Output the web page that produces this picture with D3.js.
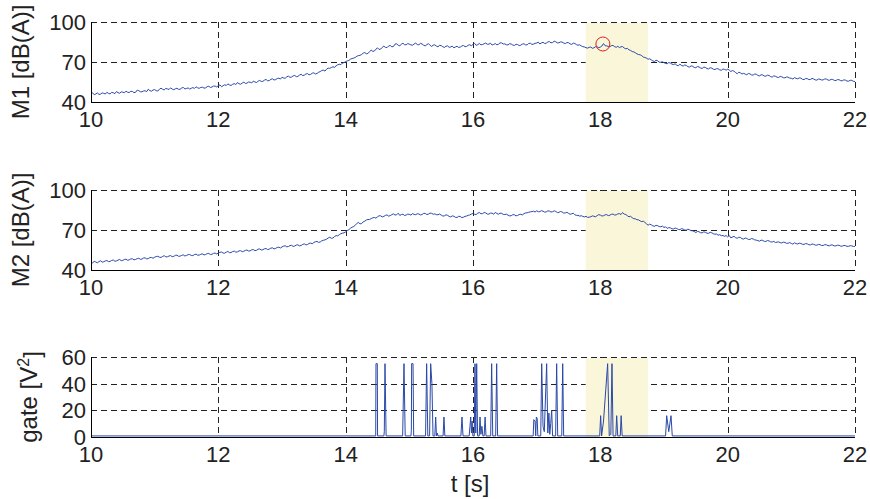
<!DOCTYPE html>
<html>
<head>
<meta charset="utf-8">
<script src="https://cdn.jsdelivr.net/npm/d3@7"></script>
<style>
  html, body { margin: 0; padding: 0; background: #fff; }
  svg { display: block; font-family: "Liberation Sans", Arial, sans-serif; }
</style>
</head>
<body>
<svg id="chart" width="870" height="499"></svg>
<script>
const tStart = 10;
const tEnd = 22;

const m1Level = [
  46.2, 46.9, 45.5, 46.0, 46.8, 45.7, 45.9, 46.8, 46.5, 46.0, 47.3, 46.4, 46.1, 47.2, 46.9, 46.3, 47.8, 47.0, 46.6, 47.6,
  47.4, 46.9, 48.2, 47.3, 47.1, 48.0, 47.9, 47.0, 47.3, 48.9, 48.5, 47.7, 47.6, 48.3, 48.4, 47.8, 49.6, 48.5, 48.1, 49.0,
  49.3, 48.5, 48.2, 49.6, 50.4, 49.5, 49.1, 50.2, 49.8, 49.4, 50.6, 49.7, 49.2, 49.9, 50.3, 49.5, 49.6, 50.5, 50.9, 49.8,
  50.1, 50.6, 49.7, 50.3, 50.8, 50.2, 51.4, 50.6, 50.3, 50.9, 51.1, 50.4, 50.6, 51.5, 51.8, 50.9, 51.2, 52.0, 51.9, 51.3,
  52.3, 52.8, 51.5, 52.2, 52.9, 52.4, 53.6, 52.8, 52.4, 53.3, 53.8, 53.1, 54.6, 53.7, 53.3, 54.2, 54.9, 54.0, 54.1, 55.0,
  54.8, 54.3, 55.7, 55.0, 54.6, 55.6, 56.2, 55.4, 55.5, 56.4, 56.9, 55.9, 56.1, 57.0, 57.4, 56.5, 56.8, 57.6, 57.9, 57.2,
  58.6, 58.0, 57.8, 58.9, 59.4, 58.5, 58.7, 59.6, 59.9, 59.0, 59.2, 60.2, 60.8, 59.8, 60.1, 61.0, 61.3, 60.4, 60.7, 61.6,
  61.9, 61.0, 61.4, 62.3, 62.8, 63.6, 63.9, 63.2, 64.6, 65.4, 65.2, 65.9, 66.4, 66.0, 67.1, 67.9, 68.3, 68.0, 69.2, 69.6,
  70.3, 70.9, 71.1, 72.1, 72.6, 72.9, 73.4, 74.3, 74.8, 75.0, 75.6, 76.6, 77.1, 76.2, 76.4, 77.8, 78.9, 78.0, 78.2, 79.6,
  80.6, 79.4, 79.7, 81.0, 81.9, 80.9, 80.8, 82.0, 82.4, 81.4, 81.6, 83.4, 83.7, 82.5, 82.2, 83.3, 84.1, 83.0, 82.9, 83.8,
  83.4, 82.8, 82.6, 83.5, 84.2, 83.1, 82.9, 84.0, 83.5, 82.6, 82.1, 83.0, 83.8, 82.5, 81.7, 82.6, 82.9, 81.9, 81.4, 82.5,
  82.3, 81.5, 80.9, 81.8, 82.1, 81.0, 81.3, 81.9, 80.6, 81.3, 81.8, 80.9, 81.2, 82.0, 82.4, 81.5, 81.7, 82.6, 82.9, 82.2,
  83.2, 84.0, 82.5, 83.0, 83.9, 82.9, 83.1, 83.7, 84.2, 83.3, 83.4, 84.1, 82.7, 83.2, 83.8, 82.9, 83.3, 84.4, 84.3, 83.5,
  83.6, 82.9, 82.8, 83.7, 83.5, 82.7, 82.4, 83.3, 83.1, 82.3, 82.6, 83.4, 83.7, 82.8, 82.9, 83.9, 84.1, 83.2, 83.4, 84.0,
  84.2, 84.9, 83.5, 84.3, 84.8, 83.9, 84.1, 85.0, 85.3, 84.4, 84.6, 85.6, 85.2, 84.3, 84.4, 85.1, 84.9, 84.2, 83.8, 84.6,
  84.5, 83.6, 83.2, 84.1, 83.9, 83.0, 82.6, 82.9, 82.1, 81.5, 81.3, 80.7, 80.4, 81.0, 81.2, 80.3, 80.6, 81.5, 81.4, 80.8,
  81.2, 82.0, 83.8, 82.2, 82.1, 81.6, 81.5, 82.3, 82.4, 81.5, 81.0, 81.8, 80.8, 81.4, 81.6, 80.5, 79.9, 80.2, 79.1, 78.7,
  77.8, 77.6, 76.9, 76.1, 75.6, 75.4, 74.8, 73.7, 73.4, 72.9, 72.1, 72.4, 71.6, 70.8, 70.4, 71.3, 70.9, 69.9, 69.8, 70.2,
  69.5, 68.9, 68.7, 69.6, 69.2, 68.4, 68.1, 68.6, 67.6, 67.2, 68.3, 67.5, 66.9, 67.8, 67.4, 66.5, 66.2, 67.1, 66.8, 65.9,
  65.7, 66.6, 66.3, 65.5, 65.2, 66.1, 65.9, 65.1, 64.8, 65.7, 65.4, 64.6, 64.3, 65.0, 64.9, 64.1, 63.8, 64.7, 64.5, 63.9,
  64.6, 63.9, 62.8, 63.6, 63.1, 62.0, 61.2, 62.4, 61.9, 61.0, 61.5, 60.9, 60.4, 61.4, 61.1, 60.3, 60.2, 61.0, 60.8, 59.9,
  59.6, 60.4, 60.3, 59.5, 59.4, 60.1, 59.9, 59.0, 58.7, 59.6, 59.3, 58.6, 58.4, 59.2, 58.9, 58.2, 58.1, 58.8, 58.6, 57.9,
  57.8, 57.2, 58.3, 57.7, 57.4, 58.1, 57.9, 57.0, 56.8, 57.6, 57.5, 56.8, 56.9, 57.7, 57.3, 56.6, 56.4, 57.2, 57.1, 56.5,
  56.6, 57.3, 57.2, 56.5, 56.3, 57.0, 56.9, 56.2, 56.1, 56.8, 56.7, 56.0, 55.9, 56.6, 56.4, 55.7, 55.6, 56.3, 56.2, 55.5,
  55.4
];

const m2Level = [
  45.8, 45.2, 46.6, 46.0, 45.4, 46.3, 46.9, 45.9, 46.2, 46.8, 47.1, 46.3, 46.4, 47.2, 47.5, 46.6, 46.8, 47.4, 47.9, 47.0,
  47.2, 47.9, 48.1, 47.3, 47.6, 48.3, 48.4, 47.6, 47.9, 48.5, 48.8, 48.0, 48.2, 49.0, 49.1, 48.3, 48.6, 49.3, 49.4, 48.8,
  49.6, 50.1, 50.3, 49.6, 49.4, 50.2, 50.7, 49.9, 49.9, 50.5, 50.8, 50.0, 50.2, 51.0, 51.1, 50.3, 50.4, 51.0, 51.3, 50.5,
  50.9, 51.5, 51.6, 50.9, 50.8, 51.6, 51.9, 51.1, 51.2, 51.8, 52.1, 51.3, 51.6, 52.3, 52.4, 51.6, 51.8, 52.5, 52.7, 52.0,
  52.8, 53.3, 53.5, 52.7, 52.6, 53.4, 53.9, 53.0, 53.1, 53.8, 54.2, 53.4, 53.6, 54.3, 54.5, 53.7, 54.1, 54.7, 55.0, 54.2,
  54.4, 55.1, 55.3, 54.5, 54.8, 55.6, 55.8, 55.0, 55.2, 55.9, 56.1, 55.3, 55.7, 56.4, 56.6, 55.8, 56.2, 56.9, 57.1, 56.5,
  57.3, 57.9, 58.1, 57.4, 57.6, 58.3, 58.5, 57.7, 58.0, 58.7, 58.9, 58.1, 58.4, 59.2, 59.6, 58.8, 59.1, 59.9, 60.2, 59.7,
  60.6, 61.2, 61.4, 60.7, 61.0, 61.9, 62.3, 62.6, 63.1, 64.0, 64.6, 63.8, 64.0, 65.1, 65.8, 65.6, 66.5, 67.3, 67.6, 67.9,
  68.6, 69.6, 70.2, 71.3, 72.1, 72.6, 73.5, 74.9, 75.7, 74.6, 74.8, 76.1, 76.6, 77.5, 77.9, 77.8, 78.6, 79.1, 79.4, 78.9,
  79.9, 80.7, 80.6, 79.8, 80.2, 81.0, 81.3, 80.4, 80.8, 81.5, 82.1, 81.2, 81.4, 82.6, 80.9, 81.6, 81.8, 80.9, 81.2, 81.9,
  81.7, 81.2, 82.3, 81.7, 81.5, 82.2, 82.0, 81.3, 81.6, 82.5, 82.4, 81.6, 81.9, 82.7, 82.5, 81.8, 82.1, 81.5, 81.4, 82.0,
  81.2, 80.5, 80.6, 81.4, 81.0, 80.2, 79.8, 80.6, 80.3, 79.5, 79.4, 80.3, 80.1, 79.3, 79.6, 80.2, 80.5, 81.0, 81.3, 82.0,
  82.4, 81.8, 81.6, 82.6, 83.1, 82.2, 82.3, 83.1, 82.8, 82.0, 81.9, 82.7, 82.6, 81.8, 83.2, 82.4, 81.8, 82.6, 82.5, 81.7,
  81.6, 81.9, 81.1, 80.6, 80.7, 81.5, 81.4, 80.6, 80.9, 81.6, 81.8, 81.3, 82.2, 82.8, 82.9, 83.3, 83.6, 83.8, 84.1, 83.5,
  84.4, 83.7, 83.8, 84.5, 84.1, 83.4, 83.6, 84.3, 84.2, 83.5, 83.7, 84.4, 83.9, 83.1, 83.2, 83.9, 83.5, 82.7, 82.8, 83.3,
  82.5, 81.8, 82.1, 82.6, 81.4, 81.0, 81.0, 80.4, 80.7, 80.2, 79.8, 80.3, 79.4, 79.7, 79.9, 80.6, 80.3, 79.9, 80.8, 81.5,
  81.2, 80.5, 80.7, 81.4, 81.5, 80.8, 81.1, 81.8, 81.9, 81.2, 81.4, 82.1, 82.3, 81.6, 83.1, 81.9, 81.6, 80.7, 79.9, 80.3,
  79.2, 78.5, 78.4, 77.7, 77.6, 76.8, 76.3, 76.6, 75.7, 74.6, 73.6, 74.4, 73.9, 73.1, 72.8, 73.5, 73.2, 72.6, 72.4, 72.9,
  71.9, 72.4, 71.2, 71.8, 71.6, 70.9, 70.8, 71.5, 71.1, 70.4, 70.3, 71.0, 70.7, 70.0, 69.9, 70.6, 70.2, 69.5, 69.4, 68.9,
  68.1, 68.9, 68.7, 67.9, 67.9, 68.6, 68.3, 67.6, 67.5, 68.3, 67.9, 67.2, 66.8, 67.0, 66.1, 66.5, 65.7, 65.9, 65.3, 65.8,
  64.8, 65.9, 64.1, 64.7, 65.3, 64.2, 63.8, 64.6, 64.4, 63.5, 63.2, 64.0, 63.7, 62.9, 62.9, 63.6, 63.3, 62.6, 62.4, 62.0,
  61.6, 62.4, 62.2, 61.5, 61.4, 62.1, 61.8, 61.1, 61.0, 61.5, 60.6, 60.9, 61.1, 60.5, 60.3, 60.9, 60.7, 60.0, 60.1, 60.6,
  59.9, 59.4, 60.4, 59.8, 59.5, 60.1, 59.9, 59.3, 59.2, 59.8, 59.6, 59.0, 58.8, 59.5, 59.3, 58.7, 58.6, 59.2, 59.0, 58.4,
  58.4, 59.0, 58.9, 58.3, 58.2, 58.8, 58.7, 58.1, 58.1, 58.6, 58.5, 57.9, 57.9, 58.4, 58.3, 57.7, 57.8, 58.2, 58.1, 57.6,
  57.8
];

// gate signal breakpoints [t, V^2]
const gatePoints = [
  [10, 0.8], [14.472, 0.8], [14.476, 55], [14.497, 55], [14.501, 0.8],
  [14.600, 0.8], [14.607, 4], [14.618, 55], [14.635, 0.8],
  [14.895, 0.8], [14.916, 55], [14.935, 0.8],
  [15.025, 0.8], [15.032, 5], [15.036, 55], [15.058, 55], [15.068, 0.8],
  [15.255, 0.8], [15.272, 55], [15.290, 0.8], [15.318, 0.8], [15.335, 55], [15.355, 40], [15.372, 0.8],
  [15.400, 0.8], [15.414, 15], [15.426, 0.8], [15.438, 3], [15.450, 0.8],
  [15.530, 0.8], [15.544, 15], [15.558, 0.8],
  [15.810, 0.8], [15.827, 15], [15.843, 0.8],
  [15.940, 0.8], [15.952, 8], [15.964, 15], [15.976, 3], [15.986, 12], [15.998, 0.8],
  [16.020, 0.8], [16.031, 55], [16.044, 3], [16.058, 55], [16.072, 0.8],
  [16.098, 0.8], [16.110, 15], [16.124, 2], [16.140, 8], [16.155, 0.8],
  [16.175, 0.8], [16.190, 15], [16.204, 0.8],
  [16.278, 0.8], [16.293, 55], [16.310, 0.8], [16.356, 0.8], [16.372, 55], [16.386, 0.8],
  [16.945, 0.8], [16.955, 13], [16.975, 12], [16.985, 0.8], [16.995, 15], [17.008, 14], [17.018, 0.8],
  [17.064, 0.8], [17.079, 55], [17.100, 8], [17.120, 4], [17.157, 55], [17.175, 3],
  [17.192, 18], [17.206, 2], [17.220, 10], [17.236, 20], [17.250, 0.8],
  [17.298, 0.8], [17.314, 55], [17.330, 0.8], [17.394, 0.8], [17.409, 55], [17.424, 0.8],
  [17.990, 0.8], [18.005, 16], [18.020, 0.8], [18.050, 12], [18.115, 55], [18.140, 0.8],
  [18.165, 2], [18.183, 55], [18.200, 0.8],
  [18.243, 0.8], [18.257, 16], [18.273, 0.8], [18.313, 0.8], [18.327, 16], [18.343, 0.8],
  [19.025, 0.8], [19.042, 16], [19.075, 4], [19.110, 16], [19.130, 0.8],
  [22, 0.8]
];

const timeTicks = [10, 12, 14, 16, 18, 20, 22];
const levelTicks = [40, 70, 100];
const gateTicks = [0, 20, 40, 60];
const highlightSpan = [17.77, 18.75];
const peakMark = [18.04, 83.5];

// --- layout ---
const svg = d3.select("#chart");
const x = d3.scaleLinear().domain([tStart, tEnd]).range([91, 855]);
const crisp = v => Math.round(v) + 0.5;
const lineColor = "#2a48a8";
const textColor = "#222";

const toSeries = arr => {
    const step = (tEnd - tStart) / (arr.length - 1);
    return arr.map((v, i) => [tStart + i * step, v]);
};

const panels = [
    { label: "M1 [dB(A)]", series: toSeries(m1Level), domain: [40, 100], ticks: levelTicks, top: 22, bottom: 102, titleX: 29, mark: true },
    { label: "M2 [dB(A)]", series: toSeries(m2Level), domain: [40, 100], ticks: levelTicks, top: 190, bottom: 270, titleX: 29 },
    { label: "gate", series: gatePoints, domain: [0, 60], ticks: gateTicks, top: 357, bottom: 437, titleX: 36.5, sup: true }
];

panels.forEach(p => {
    const y = d3.scaleLinear().domain(p.domain).range([p.bottom, p.top]);
    const g = svg.append("g");

    // dashed grid
    g.selectAll(".hgrid")
        .data(p.ticks)
        .enter()
        .append("line")
        .attr("x1", x(tStart)).attr("x2", x(tEnd))
        .attr("y1", d => crisp(y(d))).attr("y2", d => crisp(y(d)))
        .attr("stroke", "#222").attr("stroke-width", 1)
        .attr("stroke-dasharray", "6,4");

    g.selectAll(".vgrid")
        .data(timeTicks)
        .enter()
        .append("line")
        .attr("x1", d => crisp(x(d))).attr("x2", d => crisp(x(d)))
        .attr("y1", p.top).attr("y2", p.bottom)
        .attr("stroke", "#222").attr("stroke-width", 1)
        .attr("stroke-dasharray", "6,4");

    // highlighted interval (covers the grid)
    g.append("rect")
        .attr("x", x(highlightSpan[0]))
        .attr("y", crisp(p.top) + 0.5)
        .attr("width", x(highlightSpan[1]) - x(highlightSpan[0]))
        .attr("height", p.bottom - p.top - 1)
        .attr("fill", "#faf6da");

    // signal
    const line = d3.line().x(d => x(d[0])).y(d => y(d[1]));
    g.append("path")
        .datum(p.series)
        .attr("d", line)
        .attr("fill", "none")
        .attr("stroke", lineColor)
        .attr("stroke-width", 1)
        .attr("stroke-linejoin", "round");

    if (p.mark) {
        g.append("circle")
            .attr("cx", x(peakMark[0]))
            .attr("cy", y(peakMark[1]))
            .attr("r", 7)
            .attr("fill", "none")
            .attr("stroke", "#e0201c")
            .attr("stroke-width", 1);
    }

    // solid left and bottom axes
    g.append("line")
        .attr("x1", crisp(x(tStart))).attr("x2", crisp(x(tStart)))
        .attr("y1", p.top).attr("y2", crisp(p.bottom) + 0.5)
        .attr("stroke", "#000");
    g.append("line")
        .attr("x1", x(tStart)).attr("x2", x(tEnd))
        .attr("y1", crisp(p.bottom)).attr("y2", crisp(p.bottom))
        .attr("stroke", "#000");

    // tick labels
    g.selectAll(".ylab")
        .data(p.ticks)
        .enter()
        .append("text")
        .attr("x", 86)
        .attr("y", d => y(d))
        .attr("dy", "0.36em")
        .attr("text-anchor", "end")
        .attr("font-size", 22)
        .attr("fill", textColor)
        .text(d => d);

    g.selectAll(".xlab")
        .data(timeTicks)
        .enter()
        .append("text")
        .attr("x", d => x(d))
        .attr("y", p.bottom + 25)
        .attr("text-anchor", "middle")
        .attr("font-size", 22)
        .attr("fill", textColor)
        .text(d => d);

    // axis title
    const title = g.append("text")
        .attr("transform", `translate(${p.titleX},${(p.top + p.bottom) / 2}) rotate(-90)`)
        .attr("text-anchor", "middle")
        .attr("font-size", 24)
        .attr("fill", textColor)
        .text(p.label);
    if (p.sup) {
        title.append("tspan").text(" [V");
        title.append("tspan").attr("dy", "-0.45em").attr("font-size", 16).text("2");
        title.append("tspan").attr("dy", "0.45em").text("]");
    }
});

svg.append("text")
    .attr("x", 470)
    .attr("y", 492)
    .attr("text-anchor", "middle")
    .attr("font-size", 24)
    .attr("fill", textColor)
    .text("t [s]");
</script>
</body>
</html>
